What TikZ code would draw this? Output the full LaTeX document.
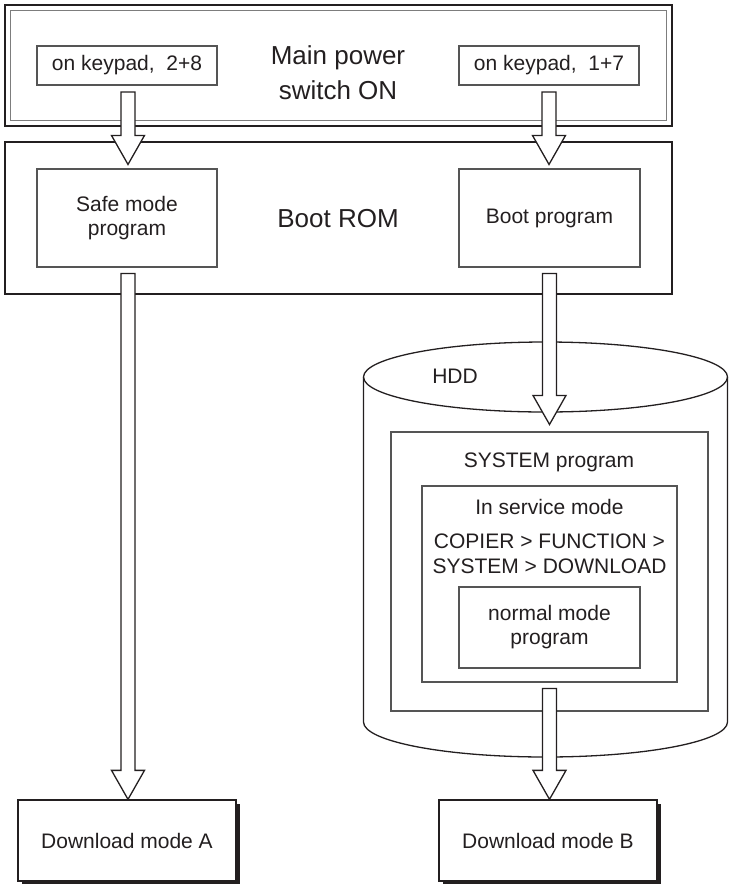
\documentclass[tikz,border=0pt]{standalone}
\usepackage{fontspec}
\setmainfont{Liberation Sans}
\usetikzlibrary{calc, shadows}
\definecolor{inkdark}{RGB}{35, 31, 32}
\definecolor{inkgrey}{RGB}{85, 85, 85}
\definecolor{framegrey}{RGB}{125, 125, 125}
\newcommand{\smallfont}{\fontsize{21}{24}\selectfont}
\newcommand{\bigfont}{\fontsize{26}{35}\selectfont}
\tikzset{
  bigbox/.style={draw=inkdark, line width=1.6pt, minimum width=667pt, inner sep=0pt},
  progbox/.style={draw=inkgrey, line width=1.1pt, inner sep=0pt, align=center, font=\smallfont},
  modebox/.style={draw=inkdark, line width=1.3pt, fill=white, minimum width=218pt, minimum height=81pt,
    inner sep=0pt, font=\smallfont,
    drop shadow={shadow xshift=3.5pt, shadow yshift=-3.5pt, fill=inkdark, opacity=1}},
  hollow/.style={draw=inkdark, line width=1.3pt, fill=white, line join=miter},
  bigtxt/.style={font=\bigfont, align=center},
  smalltxt/.style={font=\smallfont, anchor=base}
}
% hollow block arrow pointing down, from shaft top to tip
\newcommand{\hollowdown}[2]{%
  \draw[hollow] let \p1=(#1), \p2=(#2) in
    (\x1-7pt,\y1) -- (\x1-7pt,\y2+29pt) -- (\x1-16.5pt,\y2+29pt) -- (\x1,\y2)
    -- (\x1+16.5pt,\y2+29pt) -- (\x1+7pt,\y2+29pt) -- (\x1+7pt,\y1) -- cycle;}

\begin{document}
\begin{tikzpicture}[x=1pt, y=-1pt, text=inkdark]
  \useasboundingbox (0,0) rectangle (729,884);

  % Main power switch
  \node[bigbox, minimum height=121pt] (power) at (338.5,65.5) {};
  \draw[framegrey, line width=1.1pt] ($(power.north west)+(6,6)$) rectangle ($(power.south east)+(-6,-6)$);
  \node[bigtxt] (powertxt) at (338,73) {Main power\\switch ON};
  \node[progbox, minimum width=180pt, minimum height=39pt] (k28) at (127,65.5) {on keypad,~~2+8};
  \node[progbox, minimum width=180pt, minimum height=39pt] (k17) at (549,65.5) {on keypad,~~1+7};

  % Boot ROM
  \node[bigbox, minimum height=152pt] (rom) at (338.5,218) {};
  \node[bigtxt, anchor=base] (romtxt) at (338,227) {Boot ROM};
  \node[progbox, minimum width=180pt, minimum height=98pt] (safe) at (127,218) {Safe mode\\program};
  \node[progbox, minimum width=181pt, minimum height=98pt] (boot) at (549.5,218) {Boot program};

  % HDD
  \draw[inkdark, line width=1.3pt, fill=white] (363.5,377) -- (363.5,722)
    arc[start angle=180, end angle=0, x radius=182, y radius=35] -- (727.5,377);
  \draw[inkdark, line width=1.3pt] (545.5,377) ellipse [x radius=182, y radius=35];
  \node[smalltxt] (hddtxt) at (455,383) {HDD};

  \node[progbox, minimum width=317pt, minimum height=279pt] (sys) at (549.5,571.5) {};
  \node[smalltxt] (systxt) at (549,467) {SYSTEM program};
  \node[progbox, minimum width=255pt, minimum height=196pt] (svc) at (549.5,584) {};
  \node[smalltxt] (svctxt) at (549.5,514) {In service mode};
  \node[smalltxt] (copiertxt) at (549.5,548) {COPIER > FUNCTION >};
  \node[smalltxt] (systemtxt) at (549.5,573) {SYSTEM > DOWNLOAD};
  \node[progbox, minimum width=181pt, minimum height=81pt] (normal) at (549.5,627.5) {normal mode\\program};

  % Download modes
  \node[modebox] (dla) at (127,840.5) {Download mode A};
  \node[modebox] (dlb) at (548,840.5) {Download mode B};

  % Arrows
  \coordinate (a1s) at ($(k28.south)+(1,6.5)$);
  \coordinate (a1e) at ($(safe.north)+(0,-4)$);
  \coordinate (a2s) at ($(k17.south)+(0,6.5)$);
  \coordinate (a2e) at ($(boot.north)+(0,-4)$);
  \coordinate (a3s) at ($(safe.south)+(1,6)$);
  \coordinate (a4s) at ($(boot.south)+(0,6)$);
  \coordinate (a4e) at ($(sys.north)+(0,-7)$);
  \coordinate (a5s) at ($(svc.south)+(0,6)$);
  \hollowdown{a1s}{a1e}
  \hollowdown{a2s}{a2e}
  \hollowdown{a3s}{dla.north}
  \hollowdown{a4s}{a4e}
  \hollowdown{a5s}{dlb.north}
\end{tikzpicture}
\end{document}
